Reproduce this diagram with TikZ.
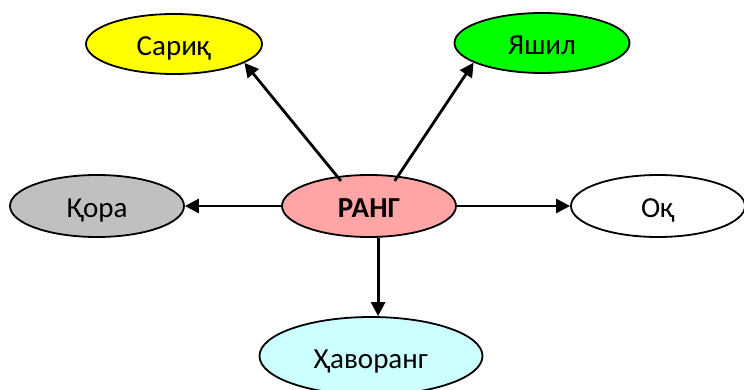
\documentclass[tikz,border=0pt]{standalone}
\usepackage{fontspec}
\setmainfont{Carlito}
\usetikzlibrary{shapes.geometric,arrows.meta,calc}
\definecolor{cyell}{RGB}{255,255,0}
\definecolor{cgreen}{RGB}{0,255,0}
\definecolor{cgray}{RGB}{192,192,192}
\definecolor{cpink}{RGB}{255,165,165}
\definecolor{ccyan}{RGB}{204,255,255}
\begin{document}
\begin{tikzpicture}[x=1pt,y=-1pt,
  oval/.style={ellipse,draw=black,line width=1.8pt,inner sep=0pt,
    font=\fontsize{29}{32}\selectfont,text height=24pt,text depth=0pt},
  conn/.style={line width=2.8pt,-{Triangle[length=14pt,width=14pt]}}]
\useasboundingbox (0,0) rectangle (744,390);
\node[oval,fill=cyell,minimum width=176pt,minimum height=60pt] (sariq) at (174,44) {Сариқ};
\node[oval,fill=cgreen,minimum width=175pt,minimum height=60pt] (yashil) at (542,43) {Яшил};
\node[oval,fill=cgray,minimum width=174pt,minimum height=62pt] (qora) at (97,206) {Қора};
\node[oval,fill=cpink,minimum width=174pt,minimum height=62pt,font=\fontsize{29}{32}\selectfont\bfseries] (rang) at (369,206) {РАНГ};
\node[oval,fill=white,minimum width=174pt,minimum height=62pt] (oq) at (658,206) {Оқ};
\node[oval,fill=ccyan,minimum width=223pt,minimum height=78pt] (havo) at (371,356) {Ҳаворанг};
\draw[conn,shorten <=-6pt] (rang.137) -- (sariq.-15);
\draw[conn,shorten <=-6pt] (rang.46) -- (yashil.-164);
\draw[conn] (rang.west) -- (qora.east);
\draw[conn] (rang.east) -- (oq.west);
\draw[conn] (rang.-74) -- (rang.-74 |- havo.north);
\end{tikzpicture}
\end{document}
